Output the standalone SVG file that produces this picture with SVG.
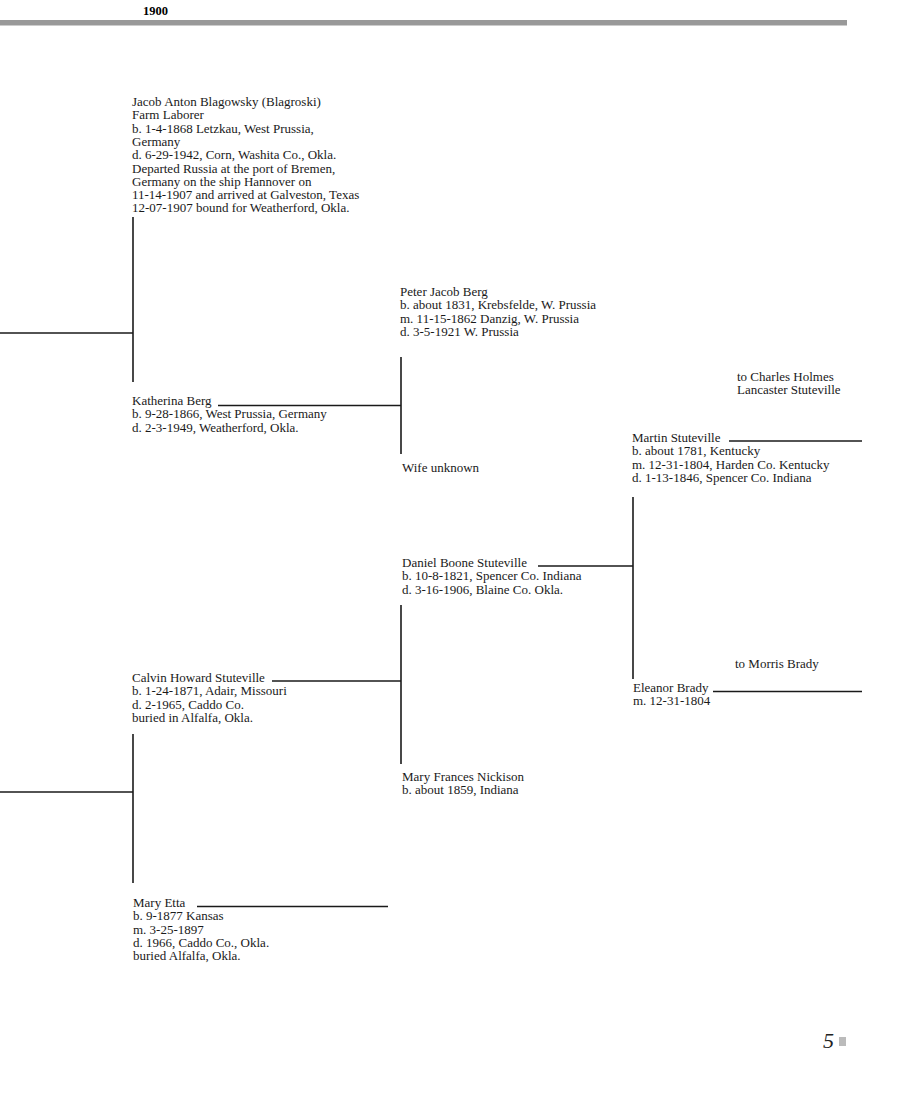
<svg xmlns="http://www.w3.org/2000/svg" width="900" height="1101" viewBox="0 0 900 1101">
<style>
text{font-family:"Liberation Serif","Times New Roman",serif;font-size:13px;fill:#1a1a1a}
.hdr{font-weight:bold;font-size:12.5px;fill:#000}
.ln{stroke:#1a1a1a;stroke-width:1.6;fill:none}
.pg{font-style:italic;font-size:22px;fill:#222}
</style>
<rect x="0" y="20" width="847" height="5.5" fill="#999999"/>
<text class="hdr" x="143" y="15">1900</text>
<g id="connectors">
<line class="ln" x1="0" y1="333" x2="133" y2="333"/>
<line class="ln" x1="133" y1="217" x2="133" y2="382"/>
<line class="ln" x1="218" y1="405.5" x2="401" y2="405.5"/>
<line class="ln" x1="401" y1="357" x2="401" y2="454"/>
<line class="ln" x1="729" y1="441" x2="862" y2="441"/>
<line class="ln" x1="538" y1="566" x2="633" y2="566"/>
<line class="ln" x1="633" y1="497" x2="633" y2="679"/>
<line class="ln" x1="713" y1="691.5" x2="862" y2="691.5"/>
<line class="ln" x1="272" y1="681" x2="401" y2="681"/>
<line class="ln" x1="401" y1="605" x2="401" y2="764"/>
<line class="ln" x1="0" y1="792" x2="133" y2="792"/>
<line class="ln" x1="133" y1="734" x2="133" y2="883"/>
<line class="ln" x1="197" y1="906.5" x2="388" y2="906.5"/>
</g>
<g id="jacob">
<text x="132" y="106">Jacob Anton Blagowsky (Blagroski)</text>
<text x="132" y="119.3">Farm Laborer</text>
<text x="132" y="132.6">b. 1-4-1868 Letzkau, West Prussia,</text>
<text x="132" y="145.9">Germany</text>
<text x="132" y="159.2">d. 6-29-1942, Corn, Washita Co., Okla.</text>
<text x="132" y="172.5">Departed Russia at the port of Bremen,</text>
<text x="132" y="185.8">Germany on the ship Hannover on</text>
<text x="132" y="199.1">11-14-1907 and arrived at Galveston, Texas</text>
<text x="132" y="212.4">12-07-1907 bound for Weatherford, Okla.</text>
</g>
<g id="katherina">
<text x="132" y="405">Katherina Berg</text>
<text x="132" y="418.3">b. 9-28-1866, West Prussia, Germany</text>
<text x="132" y="431.6">d. 2-3-1949, Weatherford, Okla.</text>
</g>
<g id="peter">
<text x="400" y="296">Peter Jacob Berg</text>
<text x="400" y="309.3">b. about 1831, Krebsfelde, W. Prussia</text>
<text x="400" y="322.6">m. 11-15-1862 Danzig, W. Prussia</text>
<text x="400" y="335.9">d. 3-5-1921 W. Prussia</text>
</g>
<g id="wife-unknown">
<text x="402" y="472">Wife unknown</text>
</g>
<g id="to-charles">
<text x="737" y="381">to Charles Holmes</text>
<text x="737" y="394.3">Lancaster Stuteville</text>
</g>
<g id="martin">
<text x="632" y="442">Martin Stuteville</text>
<text x="632" y="455.3">b. about 1781, Kentucky</text>
<text x="632" y="468.6">m. 12-31-1804, Harden Co. Kentucky</text>
<text x="632" y="481.9">d. 1-13-1846, Spencer Co. Indiana</text>
</g>
<g id="daniel">
<text x="402" y="567">Daniel Boone Stuteville</text>
<text x="402" y="580.3">b. 10-8-1821, Spencer Co. Indiana</text>
<text x="402" y="593.6">d. 3-16-1906, Blaine Co. Okla.</text>
</g>
<g id="to-morris">
<text x="735" y="668">to Morris Brady</text>
</g>
<g id="eleanor">
<text x="633" y="692">Eleanor Brady</text>
<text x="633" y="705.3">m. 12-31-1804</text>
</g>
<g id="calvin">
<text x="132" y="682">Calvin Howard Stuteville</text>
<text x="132" y="695.3">b. 1-24-1871, Adair, Missouri</text>
<text x="132" y="708.6">d. 2-1965, Caddo Co.</text>
<text x="132" y="721.9">buried in Alfalfa, Okla.</text>
</g>
<g id="mary-frances">
<text x="402" y="781">Mary Frances Nickison</text>
<text x="402" y="794.3">b. about 1859, Indiana</text>
</g>
<g id="mary-etta">
<text x="133" y="907">Mary Etta</text>
<text x="133" y="920.3">b. 9-1877 Kansas</text>
<text x="133" y="933.6">m. 3-25-1897</text>
<text x="133" y="946.9">d. 1966, Caddo Co., Okla.</text>
<text x="133" y="960.2">buried Alfalfa, Okla.</text>
</g>
<g id="page-number">
<text class="pg" x="823" y="1048">5</text>
<rect x="839" y="1037" width="7" height="9" fill="#bbbbbb"/>
</g>
</svg>
